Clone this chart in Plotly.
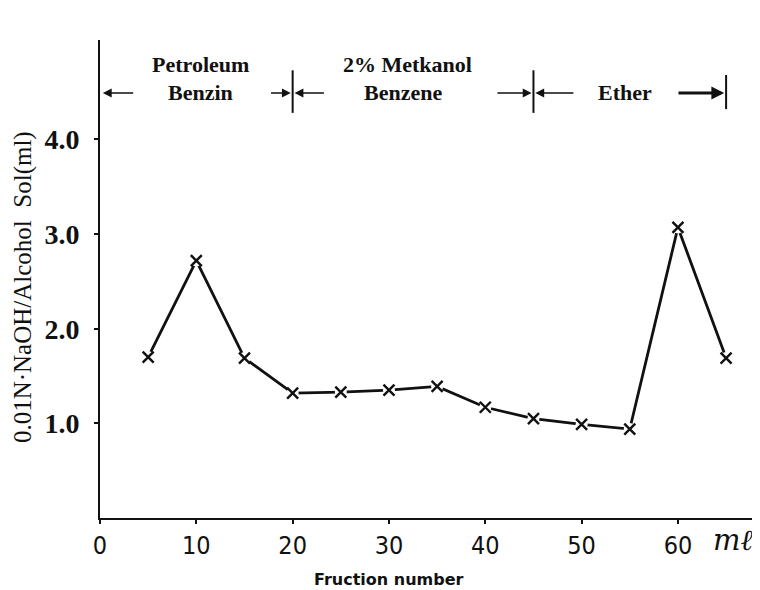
import plotly.graph_objects as go

# ---- data ----
fraction_ml = [5, 10, 15, 20, 25, 30, 35, 40, 45, 50, 55, 60, 65]
naoh_ml = [1.70, 2.72, 1.69, 1.32, 1.33, 1.35, 1.39, 1.17, 1.05, 0.99, 0.94, 3.07, 1.69]

x_tick_vals = [0, 10, 20, 30, 40, 50, 60]
x_tick_text = ["0", "10", "20", "30", "40", "50", "60"]
y_tick_vals = [1.0, 2.0, 3.0, 4.0]
y_tick_text = ["1.0", "2.0", "3.0", "4.0"]

solvent_bounds = [0, 20, 45, 65]
solvent_line1 = ["Petroleum", "2% Metkanol", ""]
solvent_line2 = ["Benzin", "Benzene", "Ether"]

SERIF = "Liberation Serif, DejaVu Serif, serif"
BLACK = "#111111"

fig = go.Figure()

fig.add_trace(go.Scatter(x=fraction_ml, y=naoh_ml, mode="lines",
                         line=dict(color=BLACK, width=2.8), hoverinfo="skip"))
fig.add_trace(go.Scatter(x=fraction_ml, y=naoh_ml, mode="markers",
                         marker=dict(symbol="circle", size=12, color="white",
                                     line=dict(width=0)), hoverinfo="skip"))
fig.add_trace(go.Scatter(x=fraction_ml, y=naoh_ml, mode="markers",
                         marker=dict(symbol="x-thin", size=11,
                                     line=dict(width=2.4, color=BLACK))))

# ---- header: solvent segments ----
arrow_y = 4.49
anns = []
shapes = []
for b in solvent_bounds[1:]:
    top = 4.73 if b != solvent_bounds[-1] else 4.68
    bot = 4.28 if b != solvent_bounds[-1] else 4.32
    shapes.append(dict(type="line", xref="x", yref="y", x0=b, x1=b, y0=bot, y1=top,
                       line=dict(color=BLACK, width=2)))

def arrow(head, tail, width=1.6):
    anns.append(dict(x=head, y=arrow_y, ax=tail, ay=arrow_y, xref="x", yref="y",
                     axref="x", ayref="y", text="", showarrow=True, arrowhead=2,
                     arrowsize=1.1 if width < 2 else 0.8, arrowwidth=width,
                     arrowcolor=BLACK))

arrow(solvent_bounds[0] + 0.3, solvent_bounds[0] + 3.6)
arrow(solvent_bounds[1] - 0.2, solvent_bounds[1] - 2.4)
arrow(solvent_bounds[1] + 0.2, solvent_bounds[1] + 3.4)
arrow(solvent_bounds[2] - 0.2, solvent_bounds[2] - 3.9)
arrow(solvent_bounds[2] + 0.2, solvent_bounds[2] + 4.3)
arrow(solvent_bounds[3] - 0.2, solvent_bounds[3] - 5.1, width=3.2)

label_x = [10.4, 31.9, 54.5]
for i in range(3):
    if solvent_line1[i]:
        anns.append(dict(x=label_x[i], y=4.79, xref="x", yref="y", text=solvent_line1[i],
                         xanchor="center", yanchor="middle", showarrow=False,
                         font=dict(family=SERIF, size=22, color=BLACK, weight="bold")))
    anns.append(dict(x=label_x[i] - (0.4 if i == 1 else 0), y=4.50, xref="x", yref="y",
                     text=solvent_line2[i], showarrow=False, xanchor="center", yanchor="middle",
                     font=dict(family=SERIF, size=22, color=BLACK, weight="bold")))

# axis titles
anns.append(dict(x=-0.1176, y=0.483, xref="paper", yref="paper", textangle=-90,
                 xanchor="center", yanchor="middle",
                 text="0.01N·NaOH/Alcohol  Sol(ml)", showarrow=False,
                 font=dict(family=SERIF, size=25, color=BLACK)))
anns.append(dict(x=30, y=-0.128, xref="x", yref="paper", text="Fruction number",
                 xanchor="center", yanchor="middle", showarrow=False,
                 font=dict(family="DejaVu Sans, sans-serif", size=16, color=BLACK, weight="bold")))
anns.append(dict(x=65.7, y=-0.045, xref="x", yref="paper", text="mℓ", showarrow=False,
                 xanchor="center", yanchor="middle",
                 font=dict(family="DejaVu Serif, serif", size=29, color=BLACK, style="italic")))

# the page body adds an 8px margin, so the figure is sized 8px smaller
fig.update_layout(
    width=752, height=582,
    margin=dict(l=92, r=5, t=32, b=72, autoexpand=False),
    paper_bgcolor="white", plot_bgcolor="white",
    showlegend=False,
    annotations=anns, shapes=shapes,
    xaxis=dict(range=[0, 68], showgrid=False, zeroline=False, showline=True,
               linecolor=BLACK, linewidth=2, ticks="outside", ticklen=4, tickwidth=2,
               tickcolor=BLACK, tickvals=x_tick_vals, ticktext=x_tick_text,
               ticklabelstandoff=0, automargin=False,
               tickfont=dict(family="Liberation Sans Narrow, DejaVu Sans Condensed, Liberation Sans, sans-serif",
                             size=25, color=BLACK)),
    yaxis=dict(range=[0, 5.05], showgrid=False, zeroline=False, showline=True,
               linecolor=BLACK, linewidth=2, ticks="outside", ticklen=4, tickwidth=2,
               tickcolor=BLACK, tickvals=y_tick_vals, ticktext=y_tick_text,
               ticklabelstandoff=9, automargin=False,
               tickfont=dict(family=SERIF, size=28, color=BLACK, weight="bold")),
)

fig.write_html("out.html")
